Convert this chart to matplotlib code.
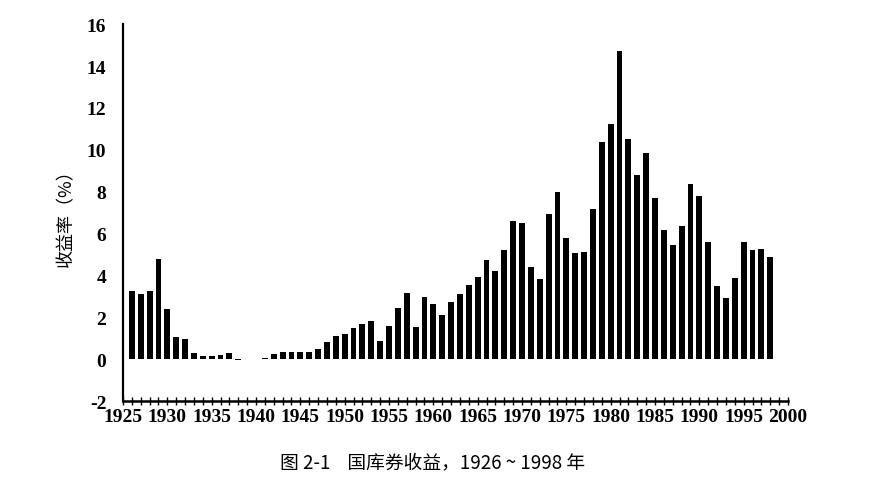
import numpy as np
import matplotlib.pyplot as plt

# 国库券收益 1926-1998 (%)
years = np.arange(1926, 1999)
returns = [3.27, 3.12, 3.24, 4.80, 2.41, 1.07, 0.96, 0.30, 0.16, 0.17,
           0.18, 0.31, -0.02, 0.02, 0.00, 0.06, 0.27, 0.35, 0.33, 0.33,
           0.35, 0.50, 0.81, 1.10, 1.20, 1.49, 1.66, 1.82, 0.86, 1.57,
           2.46, 3.14, 1.54, 2.95, 2.66, 2.13, 2.73, 3.12, 3.54, 3.93,
           4.76, 4.21, 5.21, 6.58, 6.52, 4.39, 3.84, 6.93, 8.00, 5.80,
           5.08, 5.12, 7.18, 10.38, 11.24, 14.71, 10.54, 8.80, 9.85, 7.72,
           6.16, 5.47, 6.35, 8.37, 7.81, 5.60, 3.51, 2.90, 3.90, 5.60,
           5.21, 5.26, 4.86]

xticks = np.arange(1925, 2001, 5)
yticks = np.arange(-2, 17, 2)

plt.rcParams['font.family'] = ['Noto Sans CJK SC', 'DejaVu Sans']
plt.rcParams['axes.unicode_minus'] = False

fig = plt.figure(figsize=(8.75, 4.85), dpi=100)
ax = fig.add_axes([0.1406, 0.171, 0.76, 0.777])

ax.bar(years, returns, width=0.66, color='black')

ax.set_xlim(1925, 2000)
ax.set_ylim(-2, 16)
ax.spines['top'].set_visible(False)
ax.spines['right'].set_visible(False)
ax.spines['left'].set_linewidth(1.6)
ax.spines['bottom'].set_linewidth(1.8)

ax.set_xticks(xticks)
ax.set_xticks(np.arange(1925, 2001, 1), minor=True)
ax.tick_params(axis='x', which='both', direction='inout', length=6, width=1, pad=2)
ax.set_yticks(yticks)
ax.tick_params(axis='y', length=0, pad=12)

for lab in ax.get_xticklabels() + ax.get_yticklabels():
    lab.set_family('Liberation Serif')
    lab.set_fontweight('bold')
    lab.set_fontsize(14)

ax.set_ylabel('收益率（%）', fontsize=13)
ax.yaxis.set_label_coords(-0.072, 0.5)

fig.text(0.494, 0.035, '图 2-1    国库券收益，1926 ~ 1998 年', ha='center',
         fontsize=13.5, family=['Noto Sans CJK SC', 'Liberation Serif'])

fig.savefig('out.png', dpi=100)
